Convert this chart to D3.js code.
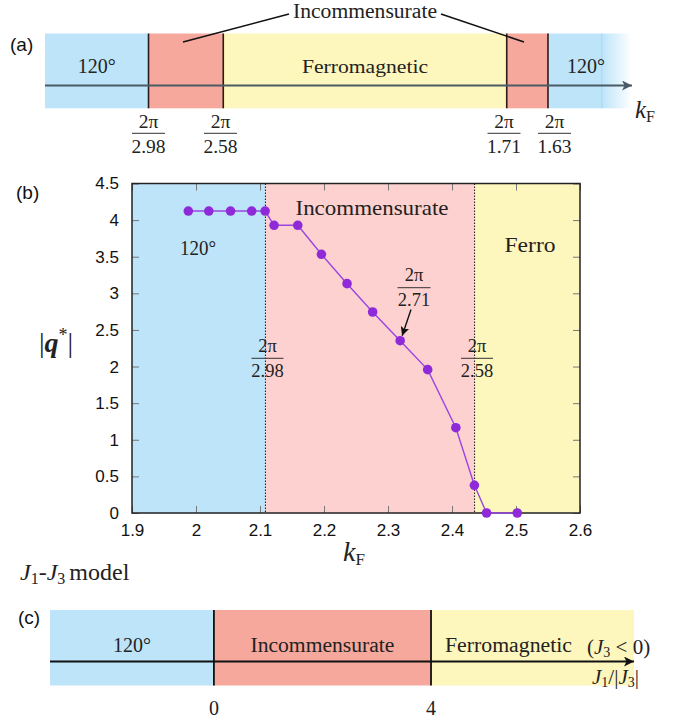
<!DOCTYPE html>
<html>
<head>
<meta charset="utf-8">
<script src="https://cdn.jsdelivr.net/npm/d3@7"></script>
<style>
  html, body { margin: 0; padding: 0; background: #fff; }
  svg { display: block; }
  .serif { font-family: "Liberation Serif", "Times New Roman", serif; fill: #222; }
  .sans { font-family: "Liberation Sans", Arial, Helvetica, sans-serif; fill: #111; }
</style>
</head>
<body>
<svg id="chart" width="683" height="723"></svg>
<script>
// ---------------- DATA ----------------
// Panel (b): |q*| vs k_F
const kF = [1.988, 2.020, 2.054, 2.087, 2.108, 2.122, 2.159, 2.196, 2.236, 2.276, 2.319, 2.362, 2.406, 2.435, 2.454, 2.502];
const qStar = [4.124, 4.124, 4.124, 4.124, 4.124, 3.929, 3.929, 3.533, 3.132, 2.745, 2.353, 1.958, 1.165, 0.378, 0, 0];
const xTicksB = [1.9, 2.0, 2.1, 2.2, 2.3, 2.4, 2.5, 2.6];
const yTicksB = [0, 0.5, 1, 1.5, 2, 2.5, 3, 3.5, 4, 4.5];
const bDomainX = [1.9, 2.6];
const bDomainY = [0, 4.5];
const bBoundaries = [2.1085, 2.4353];            // 2π/2.98, 2π/2.58
const bBoundaryDen = ["2.98", "2.58"];
const bPhases = ["120°", "Incommensurate", "Ferro"];
const bMarked = { k: 2.319, q: 2.353, den: "2.71" }; // 2π/2.71

// Panel (a): phase diagram along k_F
const aDomain = [1.656, 4.09, 4.222];               // start, solid end, fade end
const aBoundaries = [2.1085, 2.4353, 3.6744, 3.8547]; // 2π/2.98, 2π/2.58, 2π/1.71, 2π/1.63
const aBoundaryDen = ["2.98", "2.58", "1.71", "1.63"];
const aPhases = ["120°", "Incommensurate", "Ferromagnetic", "Incommensurate", "120°"];

// Panel (c): J1-J3 model
const cDomain = [-3.02, 7.74];
const cBoundaries = [0, 4];
const cTickLabels = ["0", "4"];
const cPhases = ["120°", "Incommensurate", "Ferromagnetic"];

// ---------------- STYLE ----------------
const colBlue = "#bde4f9";
const colRed = "#f6a89d";
const colPink = "#fdd1d0";
const colYellow = "#fdf6bd";
const phaseColorBand = { "120°": colBlue, "Incommensurate": colRed, "Ferromagnetic": colYellow };
const phaseColorB = { "120°": colBlue, "Incommensurate": colPink, "Ferro": colYellow };

const svg = d3.select("#chart");
const defs = svg.append("defs");

function arrowMarker(id, color, w, h) {
  defs.append("marker").attr("id", id)
    .attr("viewBox", "0 0 10 10").attr("refX", 10).attr("refY", 5)
    .attr("markerUnits", "userSpaceOnUse")
    .attr("markerWidth", w).attr("markerHeight", h)
    .attr("orient", "auto")
    .append("path").attr("d", "M0,0 L10,5 L0,10 L2.5,5 Z").attr("fill", color);
}
arrowMarker("arrA", "#4b5b66", 13, 10);
arrowMarker("arrC", "#111", 13, 10);
arrowMarker("arrB", "#111", 9, 9);

const fade = defs.append("linearGradient").attr("id", "fade").attr("x1", "0").attr("x2", "1").attr("y1", "0").attr("y2", "0");
fade.append("stop").attr("offset", "0").attr("stop-color", colBlue).attr("stop-opacity", 1);
fade.append("stop").attr("offset", "1").attr("stop-color", colBlue).attr("stop-opacity", 0);

function frac(g, x, yNum, yBar, yDen, num, den, size, barW) {
  g.append("text").attr("class", "serif").attr("x", x).attr("y", yNum)
    .attr("text-anchor", "middle").attr("font-size", size).text(num);
  g.append("line").attr("x1", x - barW / 2).attr("x2", x + barW / 2)
    .attr("y1", yBar).attr("y2", yBar).attr("stroke", "#333").attr("stroke-width", 1);
  g.append("text").attr("class", "serif").attr("x", x).attr("y", yDen)
    .attr("text-anchor", "middle").attr("font-size", size).text(den);
}

// ================= PANEL (a) =================
{
  const g = svg.append("g");
  const x = d3.scaleLinear().domain([aDomain[0], aDomain[2]]).range([45, 632]);
  const top = 33.5, bot = 108.3, axisY = 85.5;
  const edges = [aDomain[0], ...aBoundaries, aDomain[1]];
  aPhases.forEach((p, i) => {
    g.append("rect").attr("x", x(edges[i])).attr("y", top)
      .attr("width", x(edges[i + 1]) - x(edges[i])).attr("height", bot - top)
      .attr("fill", phaseColorBand[p]);
  });
  g.append("rect").attr("x", x(aDomain[1])).attr("y", top)
    .attr("width", x(aDomain[2]) - x(aDomain[1])).attr("height", bot - top)
    .attr("fill", "url(#fade)");
  g.append("line").attr("x1", x(aDomain[1])).attr("x2", x(aDomain[1]))
    .attr("y1", top).attr("y2", bot).attr("stroke", "#a6d6f2").attr("stroke-width", 1);
  aBoundaries.forEach(b => {
    g.append("line").attr("x1", x(b)).attr("x2", x(b)).attr("y1", top).attr("y2", bot)
      .attr("stroke", "#2a1a1a").attr("stroke-width", 1.6);
  });
  g.append("line").attr("x1", x(aDomain[0])).attr("x2", 632).attr("y1", axisY).attr("y2", axisY)
    .attr("stroke", "#4b5b66").attr("stroke-width", 2).attr("marker-end", "url(#arrA)");

  // phase labels
  const mid = i => (x(edges[i]) + x(edges[i + 1])) / 2;
  g.append("text").attr("class", "serif").attr("x", mid(0)).attr("y", 73).attr("text-anchor", "middle")
    .attr("font-size", 20).attr("textLength", 38).attr("lengthAdjust", "spacingAndGlyphs").text(aPhases[0]);
  g.append("text").attr("class", "serif").attr("x", mid(2)).attr("y", 73).attr("text-anchor", "middle")
    .attr("font-size", 19).attr("textLength", 126).attr("lengthAdjust", "spacingAndGlyphs").text(aPhases[2]);
  g.append("text").attr("class", "serif").attr("x", 586).attr("y", 73).attr("text-anchor", "middle")
    .attr("font-size", 20).attr("textLength", 38).attr("lengthAdjust", "spacingAndGlyphs").text(aPhases[4]);

  // Incommensurate label with leaders
  g.append("text").attr("class", "serif").attr("x", 365).attr("y", 18).attr("text-anchor", "middle")
    .attr("font-size", 20).attr("textLength", 144).attr("lengthAdjust", "spacingAndGlyphs").text("Incommensurate");
  g.append("line").attr("x1", 289).attr("y1", 14).attr("x2", 183).attr("y2", 42).attr("stroke", "#111").attr("stroke-width", 1.6);
  g.append("line").attr("x1", 441).attr("y1", 14).attr("x2", 524).attr("y2", 42).attr("stroke", "#111").attr("stroke-width", 1.6);

  // boundary fractions
  const labelX = [148.5, 220.5, 504, 554.5];
  aBoundaryDen.forEach((d, i) => frac(g, labelX[i], 127.5, 133.3, 153, "2π", d, 19.5, 33));

  // k_F
  const kt = g.append("text").attr("class", "serif").attr("x", 635).attr("y", 118).attr("font-size", 25);
  kt.append("tspan").attr("font-style", "italic").text("k");
  kt.append("tspan").attr("font-size", 16).attr("dy", 4).text("F");

  g.append("text").attr("class", "sans").attr("x", 10).attr("y", 51).attr("font-size", 19).text("(a)");
}

// ================= PANEL (b) =================
{
  const g = svg.append("g");
  const L = 132, R = 580, T = 183.5, B = 513;
  const x = d3.scaleLinear().domain(bDomainX).range([L, R]);
  const y = d3.scaleLinear().domain(bDomainY).range([B, T]);
  const edges = [bDomainX[0], ...bBoundaries, bDomainX[1]];
  bPhases.forEach((p, i) => {
    g.append("rect").attr("x", x(edges[i])).attr("y", T)
      .attr("width", x(edges[i + 1]) - x(edges[i])).attr("height", B - T)
      .attr("fill", phaseColorB[p]);
  });
  bBoundaries.forEach(b => {
    g.append("line").attr("x1", x(b)).attr("x2", x(b)).attr("y1", T).attr("y2", B)
      .attr("stroke", "#111").attr("stroke-width", 1).attr("stroke-dasharray", "1.5,1.5");
  });

  // axes with inward ticks
  const fmt = d => d3.format("")(d);
  const ax = g.append("g").attr("transform", `translate(0,${B})`)
    .call(d3.axisBottom(x).tickValues(xTicksB).tickFormat(fmt).tickSize(-7).tickPadding(14));
  const axT = g.append("g").attr("transform", `translate(0,${T})`)
    .call(d3.axisTop(x).tickValues(xTicksB).tickFormat("").tickSize(-7));
  const ay = g.append("g").attr("transform", `translate(${L},0)`)
    .call(d3.axisLeft(y).tickValues(yTicksB).tickFormat(fmt).tickSize(-7).tickPadding(13));
  const ayR = g.append("g").attr("transform", `translate(${R},0)`)
    .call(d3.axisRight(y).tickValues(yTicksB).tickFormat("").tickSize(-7));
  [ax, axT, ay, ayR].forEach(a => {
    a.select(".domain").remove();
    a.selectAll(".tick line").attr("stroke", "#777").attr("stroke-width", 1);
    a.selectAll(".tick text").attr("font-family", "'Liberation Sans', Arial, sans-serif")
      .attr("font-size", 17).attr("fill", "#111");
  });
  ax.selectAll(".tick text").attr("dy", "0.55em");
  g.append("rect").attr("x", L).attr("y", T).attr("width", R - L).attr("height", B - T)
    .attr("fill", "none").attr("stroke", "#222").attr("stroke-width", 1.5);

  // data line + points
  const pts = kF.map((k, i) => [k, qStar[i]]);
  g.append("path").datum(pts)
    .attr("d", d3.line().x(d => x(d[0])).y(d => y(d[1])))
    .attr("fill", "none").attr("stroke", "#9a45e2").attr("stroke-width", 1.4);
  g.selectAll("circle.pt").data(pts).enter().append("circle").attr("class", "pt")
    .attr("cx", d => x(d[0])).attr("cy", d => y(d[1])).attr("r", 4.8)
    .attr("fill", "#8f2ad8");

  // phase labels
  g.append("text").attr("class", "serif").attr("x", 198).attr("y", 255).attr("text-anchor", "middle")
    .attr("font-size", 21).attr("textLength", 36).attr("lengthAdjust", "spacingAndGlyphs").text(bPhases[0]);
  g.append("text").attr("class", "serif").attr("x", 372).attr("y", 215).attr("text-anchor", "middle")
    .attr("font-size", 21).attr("textLength", 153).attr("lengthAdjust", "spacingAndGlyphs").text(bPhases[1]);
  g.append("text").attr("class", "serif").attr("x", 530).attr("y", 252).attr("text-anchor", "middle")
    .attr("font-size", 21).attr("textLength", 51).attr("lengthAdjust", "spacingAndGlyphs").text(bPhases[2]);

  // boundary fractions
  const fx = [267.5, 477];
  bBoundaryDen.forEach((d, i) => frac(g, fx[i], 351.7, 358.3, 376.7, "2π", d, 18.5, 32));

  // marked point 2π/2.71
  frac(g, 414, 280.5, 287.7, 305.5, "2π", bMarked.den, 18.5, 33);
  g.append("line").attr("x1", 411).attr("y1", 309.5)
    .attr("x2", x(bMarked.k) + 2).attr("y2", y(bMarked.q) - 5)
    .attr("stroke", "#111").attr("stroke-width", 1.4).attr("marker-end", "url(#arrB)");

  // axis labels
  const qt = g.append("text").attr("class", "serif").attr("x", 56).attr("y", 352).attr("text-anchor", "middle").attr("font-size", 28);
  qt.append("tspan").text("|");
  qt.append("tspan").attr("font-style", "italic").attr("font-weight", "bold").text("q");
  qt.append("tspan").attr("font-size", 18).attr("dy", -11).text("*");
  qt.append("tspan").attr("dy", 11).text("|");

  const kx = g.append("text").attr("class", "serif").attr("x", 343).attr("y", 561).attr("font-size", 28);
  kx.append("tspan").attr("font-style", "italic").text("k");
  kx.append("tspan").attr("font-size", 17).attr("dy", 4).text("F");

  g.append("text").attr("class", "sans").attr("x", 16).attr("y", 199).attr("font-size", 19).text("(b)");

  const jt = svg.append("text").attr("class", "serif").attr("x", 20).attr("y", 580).attr("font-size", 24);
  jt.append("tspan").attr("font-style", "italic").text("J");
  jt.append("tspan").attr("font-size", 16).attr("dy", 4).text("1");
  jt.append("tspan").attr("dy", -4).text("-");
  jt.append("tspan").attr("font-style", "italic").text("J");
  jt.append("tspan").attr("font-size", 16).attr("dy", 4).text("3");
  jt.append("tspan").attr("dy", -4).attr("dx", 4).text("model");
}

// ================= PANEL (c) =================
{
  const g = svg.append("g");
  const x = d3.scaleLinear().domain(cDomain).range([50, 634]);
  const top = 610, bot = 685.5, axisY = 661.5;
  const edges = [cDomain[0], ...cBoundaries, cDomain[1]];
  cPhases.forEach((p, i) => {
    g.append("rect").attr("x", x(edges[i])).attr("y", top)
      .attr("width", x(edges[i + 1]) - x(edges[i])).attr("height", bot - top)
      .attr("fill", phaseColorBand[p]);
  });
  cBoundaries.forEach(b => {
    g.append("line").attr("x1", x(b)).attr("x2", x(b)).attr("y1", top).attr("y2", bot)
      .attr("stroke", "#111").attr("stroke-width", 1.8);
  });
  g.append("line").attr("x1", x(cDomain[0])).attr("x2", x(cDomain[1])).attr("y1", axisY).attr("y2", axisY)
    .attr("stroke", "#111").attr("stroke-width", 2).attr("marker-end", "url(#arrC)");

  g.append("text").attr("class", "serif").attr("x", (x(edges[0]) + x(edges[1])) / 2).attr("y", 652)
    .attr("text-anchor", "middle").attr("font-size", 20).attr("textLength", 38).attr("lengthAdjust", "spacingAndGlyphs").text(cPhases[0]);
  g.append("text").attr("class", "serif").attr("x", (x(edges[1]) + x(edges[2])) / 2).attr("y", 652)
    .attr("text-anchor", "middle").attr("font-size", 20).attr("textLength", 144).attr("lengthAdjust", "spacingAndGlyphs").text(cPhases[1]);
  g.append("text").attr("class", "serif").attr("x", 445).attr("y", 652)
    .attr("font-size", 20).attr("textLength", 127).attr("lengthAdjust", "spacingAndGlyphs").text(cPhases[2]);

  const jc = g.append("text").attr("class", "serif").attr("x", 587).attr("y", 654).attr("font-size", 21);
  jc.append("tspan").text("(");
  jc.append("tspan").attr("font-style", "italic").text("J");
  jc.append("tspan").attr("font-size", 14).attr("dy", 3).text("3");
  jc.append("tspan").attr("dy", -3).text(" < 0)");

  const jr = g.append("text").attr("class", "serif").attr("x", 592).attr("y", 684).attr("font-size", 21);
  jr.append("tspan").attr("font-style", "italic").text("J");
  jr.append("tspan").attr("font-size", 14).attr("dy", 3).text("1");
  jr.append("tspan").attr("dy", -3).text("/|");
  jr.append("tspan").attr("font-style", "italic").text("J");
  jr.append("tspan").attr("font-size", 14).attr("dy", 3).text("3");
  jr.append("tspan").attr("dy", -3).text("|");

  cBoundaries.forEach((b, i) => {
    g.append("text").attr("class", "serif").attr("x", x(b)).attr("y", 715).attr("text-anchor", "middle")
      .attr("font-size", 20).text(cTickLabels[i]);
  });

  g.append("text").attr("class", "sans").attr("x", 18).attr("y", 624).attr("font-size", 19).text("(c)");
}
</script>
</body>
</html>
